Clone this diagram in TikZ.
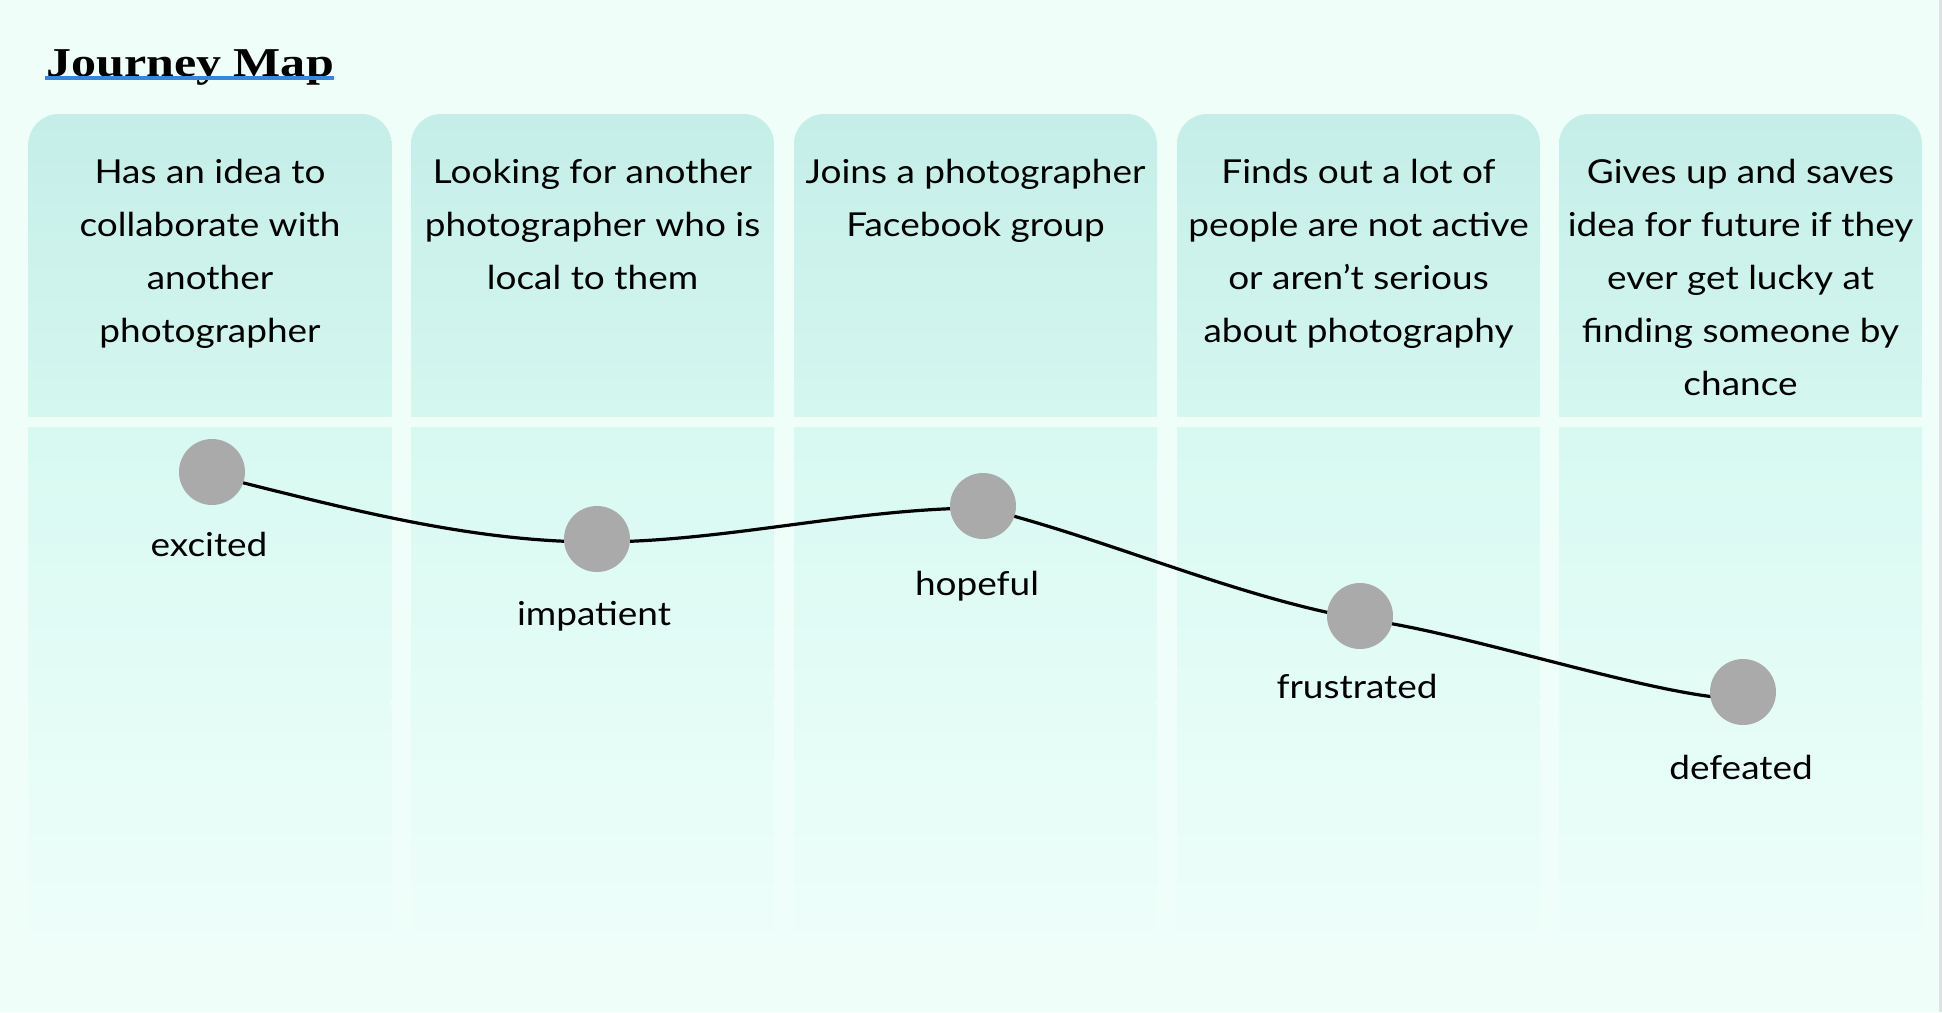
\documentclass[tikz,border=0pt]{standalone}
\usepackage{fontspec}
\newfontfamily\hfont[FakeStretch=1.12]{Lato}
\newfontfamily\tfont{Liberation Serif}
\definecolor{bgc}{HTML}{F0FEFA}
\definecolor{htop}{HTML}{C5EEE8}
\definecolor{hbot}{HTML}{D6F8F0}
\definecolor{btop}{HTML}{D7F9F1}
\definecolor{bmid}{HTML}{E4FCF6}
\definecolor{bbot}{HTML}{EEFEFA}
\definecolor{dotc}{HTML}{AAAAAA}
\definecolor{ulc}{HTML}{3A86DA}
\definecolor{edgec}{HTML}{DCE3E2}
\pgfdeclarelayer{bg}
\pgfdeclarelayer{mid}
\pgfsetlayers{bg,mid,main}
\tikzset{
  headtext/.style={anchor=north, inner sep=0pt, align=center, font=\hfont\fontsize{33}{53}\selectfont, text=black},
  moodlab/.style={anchor=base, inner sep=0pt, font=\hfont\fontsize{33}{40}\selectfont, text=black},
  dot/.style={circle, fill=dotc, minimum size=66pt, inner sep=0pt},
  curve/.style={line width=3.2pt, black}
}
\begin{document}
\begin{tikzpicture}[x=1pt,y=-1pt]
\begin{pgfonlayer}{bg}
\fill[bgc] (0,0) rectangle (1942,1012);
\useasboundingbox (0,0) rectangle (1942,1012);
\fill[edgec] (1939,0) rectangle (1942,1012);
\foreach \xl in {28.5,411,794,1177,1559}{
  \pgfmathsetmacro{\xr}{\xl+363}
  \begin{scope}
    \clip (\xl,114) rectangle (\xr,416);
    \shade[top color=htop, bottom color=hbot, rounded corners=30pt] (\xl,114) rectangle (\xr,450);
  \end{scope}
  \shade[top color=btop, bottom color=bmid] (\xl,427) rectangle (\xr,700);
  \shade[top color=bmid, bottom color=bbot, rounded corners=8pt] (\xl,699) -- (\xl,945) -- (\xr,945) -- (\xr,699) [sharp corners] -- cycle;
}
\end{pgfonlayer}

\node[anchor=base west, inner sep=0pt, font=\tfont\bfseries\fontsize{41}{44}\selectfont] (title) at (46,76) {\scalebox{1.22}[1]{Journey Map}};
\draw[ulc, line width=4pt] ([xshift=-1pt,yshift=-2pt]title.base west) -- ([yshift=-2pt]title.base east);

\node[headtext] (h1) at (210,159) {Has an idea to\\collaborate with\\another\\photographer};
\node[headtext] (h2) at (592.5,159) {Looking for another\\photographer who is\\local to them};
\node[headtext] (h3) at (975.5,159) {Joins a photographer\\Facebook group};
\node[headtext] (h4) at (1358.5,159) {Finds out a lot of\\people are not active\\or aren’t serious\\about photography};
\node[headtext] (h5) at (1740.5,159) {Gives up and saves\\idea for future if they\\ever get lucky at\\finding someone by\\chance};

\node[dot] (c1) at (212,472) {};
\node[dot] (c2) at (597,539) {};
\node[dot] (c3) at (983,506) {};
\node[dot] (c4) at (1360,616) {};
\node[dot] (c5) at (1743,692) {};

\node[moodlab] (l1) at (209,556) {excited};
\node[moodlab] (l2) at (594,625) {impatient};
\node[moodlab] (l3) at (977,595) {hopeful};
\node[moodlab] (l4) at (1357,698) {frustrated};
\node[moodlab] (l5) at (1741,779) {defeated};

\begin{pgfonlayer}{mid}
\draw[curve] ([yshift=-3pt]c1.center) .. controls (340.3,507) and (468.7,542) .. ([yshift=-3pt]c2.center)
  .. controls (725.7,542) and (854.3,508) .. ([yshift=-2pt]c3.center)
  .. controls (1108.7,539.4) and (1234.3,596.4) .. ([yshift=-3pt]c4.center)
  .. controls (1460,630) and (1660,699) .. ([yshift=-7pt]c5.center);
\end{pgfonlayer}
\end{tikzpicture}
\end{document}
